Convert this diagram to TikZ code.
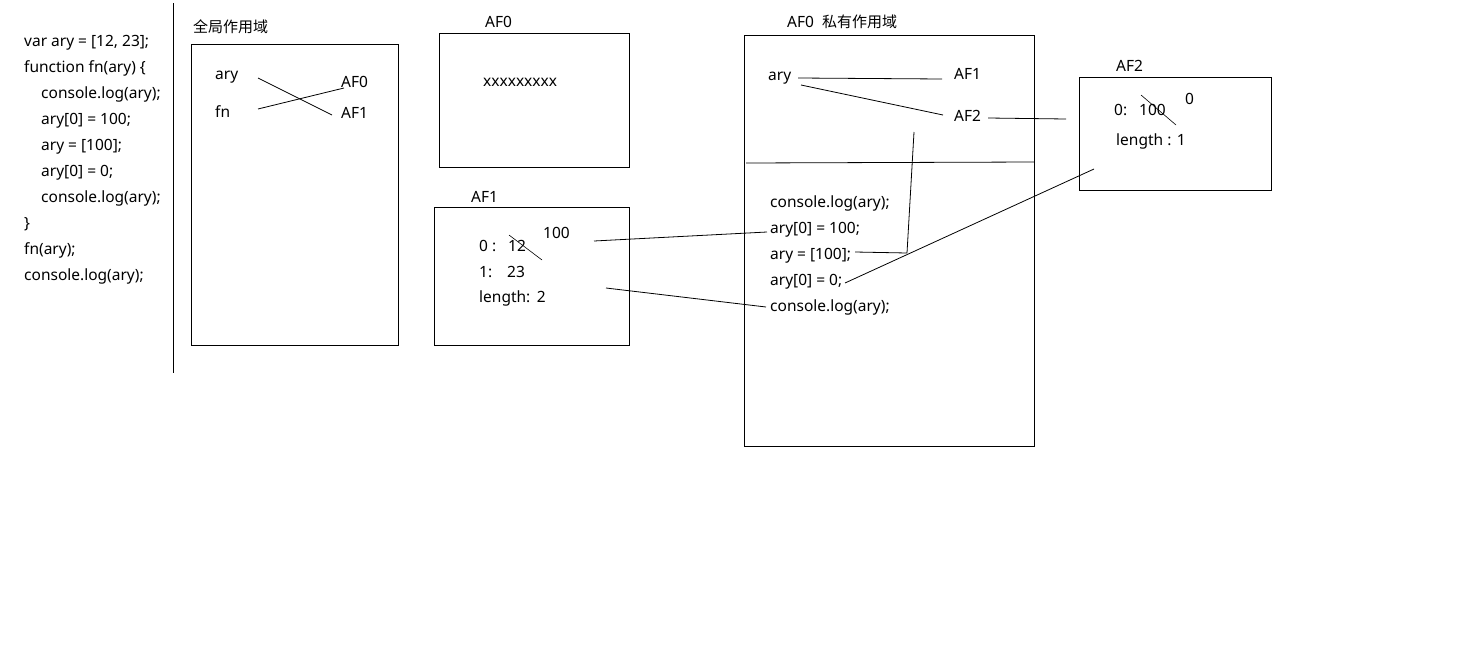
\documentclass[tikz,border=0pt]{standalone}
\usepackage{fontspec}
\setmainfont{Noto Sans}
\newfontfamily\cjk{Noto Sans CJK SC}
\begin{document}
\begin{tikzpicture}[x=1pt,y=-1pt,
  txt/.style={anchor=base west,inner sep=0pt,font=\fontsize{15.5}{18}\selectfont},
  cjktxt/.style={txt,font=\fontsize{15}{18}\cjk},
  box/.style={draw,line width=0.9pt},
  wire/.style={line width=0.8pt}]
\useasboundingbox[fill=white] (0,0) rectangle (1472,648);

% source code column and separator
\node[txt] (c1) at (24,46) {var ary = [12, 23];};
\node[txt] (c2) at (24,72) {function fn(ary) \{};
\node[txt] (c3) at (41,98) {console.log(ary);};
\node[txt] (c4) at (41,124) {ary[0] = 100;};
\node[txt] (c5) at (41,150) {ary = [100];};
\node[txt] (c6) at (41,176) {ary[0] = 0;};
\node[txt] (c7) at (41,202) {console.log(ary);};
\node[txt] (c8) at (24,228) {\}};
\node[txt] (c9) at (24,254) {fn(ary);};
\node[txt] (c10) at (24,280) {console.log(ary);};
\draw[line width=1pt] (173,3) -- (173,373);

% global scope
\node[cjktxt] (gt) at (193,32) {全局作用域};
\draw[box] (191,44) rectangle (398,345);
\node[txt] (gary) at (215,79) {ary};
\node[txt] (gfn) at (215,117) {fn};
\node[txt] (gaf0) at (341,87) {AF0};
\node[txt] (gaf1) at (341,118) {AF1};
\coordinate (g1a) at (258,78);  \coordinate (g1b) at (332,115);
\coordinate (g2a) at (258,109); \coordinate (g2b) at (344,88);
\draw[wire] (g1a) -- (g1b);
\draw[wire] (g2a) -- (g2b);

% heap AF0
\node[txt] (h0t) at (485,27) {AF0};
\draw[box] (439,33) rectangle (629,167);
\node[txt] (h0x) at (483,86) {xxxxxxxxx};

% heap AF1
\node[txt] (h1t) at (471,202) {AF1};
\draw[box] (434,207) rectangle (629,345);
\node[txt] (h1a) at (479,251) {0 :};
\node[txt] (h1a2) at (508,251) {12};
\node[txt] (h1b) at (479,277) {1:};
\node[txt] (h1b2) at (507,277) {23};
\node[txt] (h1c) at (479,302) {length:\ \,2};
\node[txt] (h1n) at (543,238) {100};
\coordinate (s1a) at (509,235); \coordinate (s1b) at (542,260);
\draw[line width=0.6pt] (s1a) -- (s1b);

% private scope of AF0
\node[txt] (pt) at (787,27) {AF0\ \ {\fontsize{15}{18}\cjk 私有作用域}};
\draw[box] (744,35) rectangle (1034,446);
\coordinate (d1) at (746,163); \coordinate (d2) at (1034,162);
\draw[wire] (d1) -- (d2);
\node[txt] (pary) at (768,80) {ary};
\node[txt] (paf1) at (954,79) {AF1};
\node[txt] (paf2) at (954,121) {AF2};
\node[txt] (p1) at (770,207) {console.log(ary);};
\node[txt] (p2) at (770,233) {ary[0] = 100;};
\node[txt] (p3) at (770,259) {ary = [100];};
\node[txt] (p4) at (770,285) {ary[0] = 0;};
\node[txt] (p5) at (770,311) {console.log(ary);};

\coordinate (a1a) at (798,78);  \coordinate (a1b) at (942,79);
\coordinate (a2a) at (801,85);  \coordinate (a2b) at (943,115);
\coordinate (a3a) at (988,118); \coordinate (a3b) at (1066,119);
\draw[wire] (a1a) -- (a1b);
\draw[wire] (a2a) -- (a2b);
\draw[wire] (a3a) -- (a3b);

\coordinate (v1) at (914,132); \coordinate (v2) at (907,253);
\coordinate (v3) at (855,252);
\draw[wire] (v1) -- (v2) -- (v3);

% links between the heap and the code
\coordinate (l1a) at (594,241); \coordinate (l1b) at (767,232);
\coordinate (l2a) at (606,288); \coordinate (l2b) at (766,307);
\coordinate (l3a) at (845,283); \coordinate (l3b) at (1094,169);
\draw[wire] (l1a) -- (l1b);
\draw[wire] (l2a) -- (l2b);
\draw[wire] (l3a) -- (l3b);

% heap AF2
\node[txt] (h2t) at (1116,71) {AF2};
\draw[box] (1079,77) rectangle (1271,190);
\node[txt] (h2a) at (1114,115) {0:};
\node[txt] (h2a2) at (1139,115) {100};
\node[txt] (h2z) at (1185,104) {0};
\node[txt] (h2b) at (1116,145) {length : 1};
\coordinate (s2a) at (1141,95); \coordinate (s2b) at (1176,125);
\draw[line width=0.6pt] (s2a) -- (s2b);
\end{tikzpicture}
\end{document}
